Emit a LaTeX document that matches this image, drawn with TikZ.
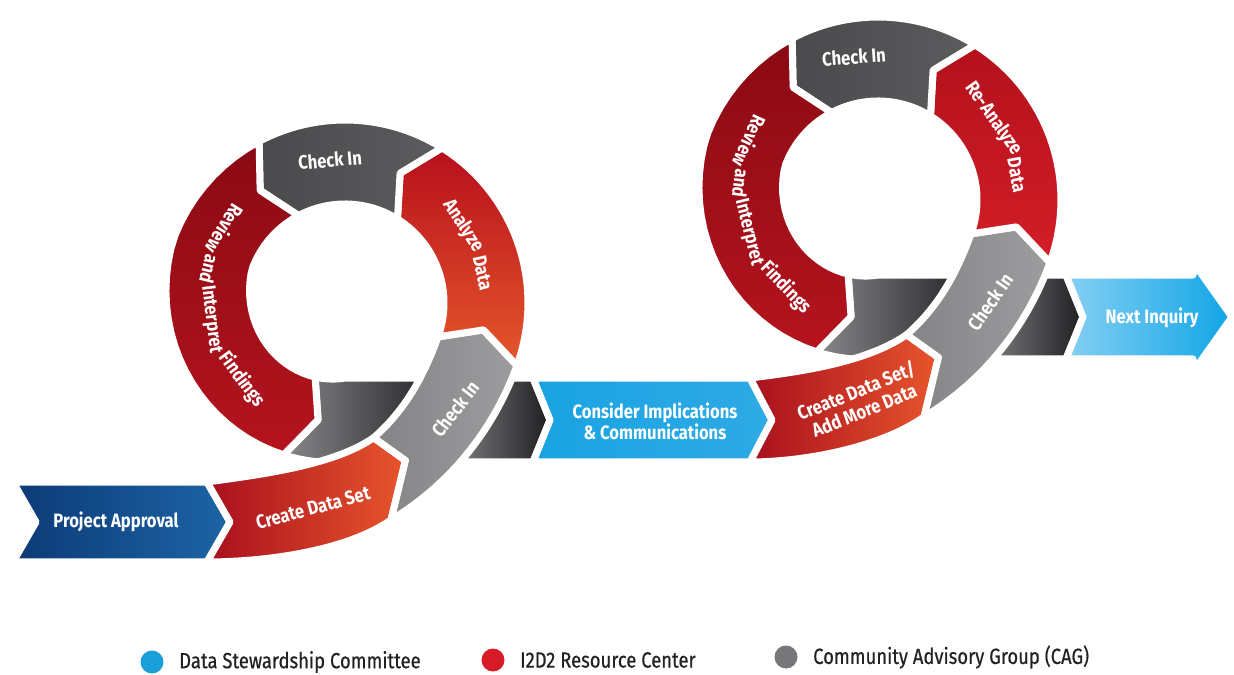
\documentclass[tikz,border=0pt]{standalone}
\usepackage{fontspec}
\setmainfont{Fira Sans}[FakeStretch=0.86]
\newfontfamily\legfamily{Fira Sans}[FakeStretch=0.84, FakeBold=0.5]
\definecolor{revtop}{HTML}{8A0A13}
\definecolor{revbot}{HTML}{B5141E}
\definecolor{anatop}{HTML}{B80F1C}
\definecolor{anabot}{HTML}{E4572B}
\definecolor{reatop}{HTML}{B3111C}
\definecolor{reabot}{HTML}{D31E27}
\definecolor{cdsleft}{HTML}{A8101D}
\definecolor{cdsright}{HTML}{E8552C}
\definecolor{ckdark}{HTML}{4A4A4C}
\definecolor{ckdark2}{HTML}{5C5C5E}
\definecolor{cklight}{HTML}{848486}
\definecolor{cklight2}{HTML}{9D9D9F}
\definecolor{tunnel}{HTML}{88888A}
\definecolor{tunnel2}{HTML}{1E1E20}
\definecolor{paleft}{HTML}{0C3A76}
\definecolor{paright}{HTML}{1D64A6}
\definecolor{ciblue}{HTML}{19A3E2}
\definecolor{ciblue2}{HTML}{2FAAE4}
\definecolor{nxleft}{HTML}{86CFF3}
\definecolor{nxright}{HTML}{10A5E6}
\definecolor{lgblue}{HTML}{1B9FDB}
\definecolor{lgred}{HTML}{D61A27}
\definecolor{lggray}{HTML}{77777A}
\definecolor{legink}{HTML}{222222}
\newcommand{\segfont}{\fontsize{11}{12}\selectfont\bfseries}
\newcommand{\legfont}{\legfamily\fontsize{12.5}{14}\selectfont}
\newcommand{\ringseg}[3]{%
  \path[seg,#3] plot[domain=#1:#2,samples=30] (\x:{rr(\x)+\hw})
    -- ({#2-9}:{rr(#2-9)})
    -- plot[domain=#2:#1,samples=30] (\x:{rr(\x)-\hw})
    -- ({#1-9}:{rr(#1-9)}) -- cycle;}
\begin{document}
\begin{tikzpicture}[x=0.02cm, y=-0.02cm, line join=round,
  declare function={rr(\a)=141+0.0115*pow(max(\a-20,0),2)-0.218*max(-160-\a,0);},
  seg/.style={draw=white, line width=4pt},
  segtext/.style={text=white, font=\segfont, inner sep=0pt},
  legtext/.style={text=legink, font=\legfont, anchor=west, inner sep=0pt}]
\def\hw{42}
\useasboundingbox (0,0) rectangle (1234,675);
\fill[white] (0,0) rectangle (1234,675);

\path[seg, left color=paleft, right color=paright] (13,482) -- (207,482) -- (230,522) -- (207,562) -- (13,562) -- (36,522) -- cycle;
\node[segtext] (pa) at (116,522) {Project Approval};

\begin{scope}[shift={(345,303)}]
  \path[seg, left color=tunnel, right color=tunnel2] plot[domain=-248:-270,samples=12] (\x:{rr(\x)+\hw}) -- (100,159) -- (100,75) -- plot[domain=-270:-248,samples=12] (\x:{rr(\x)-\hw}) -- (-257:{rr(-257)}) -- cycle;
  \path[seg, left color=tunnel, right color=tunnel2] (98,75) -- (188,75) -- (205,117) -- (188,159) -- (98,159) -- cycle;
  \path[seg, left color=cdsleft, right color=cdsright] (-138,179) .. controls (-88,172) and (-12,163) .. (78:{rr(78)-\hw}) -- (69:{rr(69)}) -- (78:{rr(78)+\hw}) .. controls (2,248) and (-80,259) .. (-138,259) -- (-115,219) -- cycle;
  \ringseg{78}{20}{left color=cklight, right color=cklight2}
  \ringseg{20}{-58}{top color=anatop, bottom color=anabot}
  \ringseg{-58}{-118}{left color=ckdark, right color=ckdark2}
  \ringseg{-118}{-248}{top color=revtop, bottom color=revbot}
  \node[segtext, rotate=15] (cds1) at (-32,205) {Create Data Set};
  \node[segtext, rotate=52] (cil1) at (110,106) {Check In};
  \node[segtext, rotate=5] (ckt1) at (-15,-143) {Check In};
  \foreach \w/\a [count=\i] in {Analyze/-33.25, Data/-12.25}
    \node[segtext, rotate={-90-\a}] (an1\i) at (\a:{rr(\a)}) {\w};
  \foreach \w/\a [count=\i] in {Review/-148.5, and/-166, Interpret/-187, Findings/-216.5}
    \node[segtext, rotate={90-\a}] (rv1\i) at (\a:{rr(\a)}) {\w};
\end{scope}

\path[seg, left color=ciblue, right color=ciblue2] (533,378) -- (750,378) -- (772,420) -- (750,462) -- (533,462) -- (550,420) -- cycle;
\node[segtext, align=center] (cic) at (655,421) {Consider Implications\\\& Communications};

\begin{scope}[shift={(878,200)}]
  \path[seg, left color=tunnel, right color=tunnel2] plot[domain=-248:-270,samples=12] (\x:{rr(\x)+\hw}) -- (100,159) -- (100,75) -- plot[domain=-270:-248,samples=12] (\x:{rr(\x)-\hw}) -- (-257:{rr(-257)}) -- cycle;
  \path[seg, left color=tunnel, right color=tunnel2] (98,75) -- (188,75) -- (205,117) -- (188,159) -- (98,159) -- cycle;
  \path[seg, left color=cdsleft, right color=cdsright] (-128,178) .. controls (-80,172) and (-12,163) .. (78:{rr(78)-\hw}) -- (69:{rr(69)}) -- (78:{rr(78)+\hw}) .. controls (2,248) and (-75,262) .. (-128,262) -- (-106,220) -- cycle;
  \ringseg{78}{20}{left color=cklight, right color=cklight2}
  \ringseg{20}{-58}{top color=reatop, bottom color=reabot}
  \ringseg{-58}{-118}{left color=ckdark, right color=ckdark2}
  \ringseg{-118}{-248}{top color=revtop, bottom color=revbot}
  \node[segtext, rotate=22, align=center] (cds2) at (-18,200) {Create Data Set/\\Add More Data};
  \node[segtext, rotate=55] (cil2) at (112,102) {Check In};
  \node[segtext, rotate=4] (ckt2) at (-24,-143) {Check In};
  \foreach \w/\a [count=\i] in {Re-Analyze/-35.25, Data/-10.25}
    \node[segtext, rotate={-90-\a}] (an2\i) at (\a:{rr(\a)}) {\w};
  \foreach \w/\a [count=\i] in {Review/-155.5, and/-173, Interpret/-194, Findings/-223.5}
    \node[segtext, rotate={90-\a}] (rv2\i) at (\a:{rr(\a)}) {\w};
\end{scope}

\path[seg, left color=nxleft, right color=nxright] (1066,275) -- (1193,275) -- (1193,262) -- (1232,317) -- (1193,372) -- (1193,359) -- (1066,359) -- (1083,317) -- cycle;
\node[segtext] (nxt) at (1152,318) {Next Inquiry};

\foreach \c/\xx/\yy/\n/\t in {lgblue/152/662/dsc/Data Stewardship Committee, lgred/493/660/rc/I2D2 Resource Center, lggray/786/657/cag/Community Advisory Group (CAG)}{
  \node[circle, fill=\c, minimum size=23*0.02cm, inner sep=0pt] (dot\n) at (\xx,\yy) {};
  \node[legtext] (lab\n) at ([xshift=15*0.02cm]dot\n.east) {\t};
}
\end{tikzpicture}
\end{document}
